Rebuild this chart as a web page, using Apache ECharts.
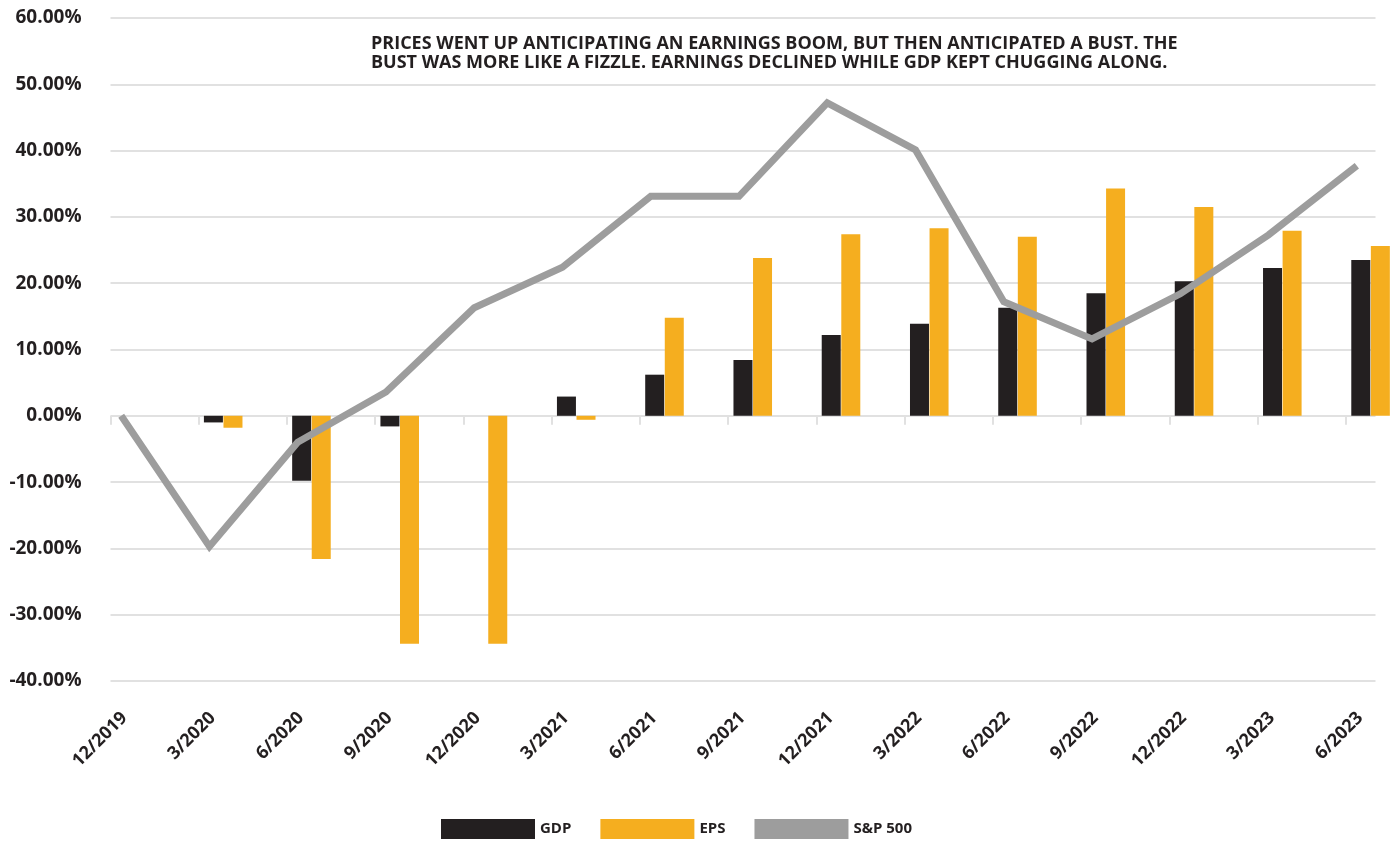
<!DOCTYPE html>
<html>
<head>
<meta charset="utf-8">
<title>GDP, EPS and S&amp;P 500</title>
<script src="https://cdn.jsdelivr.net/npm/echarts@6/dist/echarts.min.js"></script>
<style>
  html, body { margin: 0; padding: 0; background: #ffffff; }
  #chart { width: 1396px; height: 841px; }
</style>
</head>
<body>
<div id="chart"></div>
<script>
// Quarter-end dates (cumulative % change since 12/2019)
const categories = ['12/2019', '3/2020', '6/2020', '9/2020', '12/2020', '3/2021', '6/2021', '9/2021',
  '12/2021', '3/2022', '6/2022', '9/2022', '12/2022', '3/2023', '6/2023'];
const gdp = [0, -1.0, -9.8, -1.6, 0, 2.9, 6.2, 8.4, 12.2, 13.9, 16.3, 18.5, 20.3, 22.3, 23.5];
const eps = [0, -1.8, -21.6, -34.4, -34.4, -0.6, 14.8, 23.8, 27.4, 28.3, 27.0, 34.3, 31.5, 27.9, 25.6];
const sp500 = [0, -19.7, -4.0, 3.6, 16.3, 22.4, 33.1, 33.1, 47.2, 40.1, 17.2, 11.6, 18.4, 27.3, 37.7];
const seriesNames = ['GDP', 'EPS', 'S&P 500'];
const yMin = -40, yMax = 60, yStep = 10;
const headline = 'PRICES WENT UP ANTICIPATING AN EARNINGS BOOM, BUT THEN ANTICIPATED A BUST. THE\n' +
  'BUST WAS MORE LIKE A FIZZLE. EARNINGS DECLINED WHILE GDP KEPT CHUGGING ALONG.';

const INK = '#231f20';
const FONT = 'Open Sans';
const STEP = 88.26;            // px per quarter
const N = categories.length;
const TOP = 18, BOTTOM = 160;

const chart = echarts.init(document.getElementById('chart'), null, { renderer: 'canvas' });

function hiddenY(gridIndex) {
  return { type: 'value', gridIndex, min: yMin, max: yMax, interval: yStep, show: false };
}

// every grid keeps its exact rectangle (no shrinking to fit the container)
function grid(rect) {
  return Object.assign({ top: TOP, bottom: BOTTOM, containLabel: false, outerBoundsMode: 'none' }, rect);
}

const option = {
  animation: false,
  backgroundColor: '#ffffff',
  title: {
    text: headline,
    left: 371,
    top: 34,
    padding: 0,
    textStyle: { fontFamily: FONT, fontWeight: 'bold', fontSize: 18, lineHeight: 19, color: INK }
  },
  legend: {
    data: seriesNames,
    left: 441,
    top: 819,
    padding: 0,
    icon: 'rect',
    itemWidth: 94,
    itemHeight: 20,
    itemGap: 29,
    selectedMode: false,
    textStyle: { fontFamily: FONT, fontWeight: 'bold', fontSize: 15, color: INK }
  },
  grid: [
    grid({ left: 110.5, right: 20.5 }),                    // value gridlines and y labels
    grid({ left: 110.3, width: STEP * N }),                 // quarter boundary ticks on the zero line
    grid({ left: 90.8, width: STEP * N }),                  // GDP / EPS bars
    grid({ left: 121.2, width: STEP * (N - 1) }),           // S&P 500 line
    grid({ left: 124.5, width: STEP * (N - 1) })            // date labels along the bottom
  ],
  xAxis: [
    { type: 'category', gridIndex: 0, data: categories, show: false },
    {
      type: 'category', gridIndex: 1, data: categories, boundaryGap: true,
      axisLine: { show: false, onZero: true },
      axisTick: { show: true, length: 9, lineStyle: { color: '#e1e1e1', width: 2 } },
      axisLabel: { show: false },
      splitLine: { show: false }
    },
    { type: 'category', gridIndex: 2, data: categories, boundaryGap: true, show: false },
    { type: 'category', gridIndex: 3, data: categories, boundaryGap: false, show: false },
    {
      type: 'category', gridIndex: 4, data: categories, boundaryGap: false, position: 'bottom',
      axisLine: { show: false, onZero: false },
      axisTick: { show: false },
      splitLine: { show: false },
      axisLabel: {
        interval: 0, rotate: 45, margin: 34,
        fontFamily: FONT, fontWeight: 'bold', fontSize: 18, color: INK
      }
    }
  ],
  yAxis: [
    {
      type: 'value', gridIndex: 0, min: yMin, max: yMax, interval: yStep,
      axisLine: { show: false },
      axisTick: { show: false },
      splitLine: { show: true, lineStyle: { color: '#e1e1e1', width: 2 } },
      axisLabel: {
        margin: 29,
        fontFamily: FONT, fontWeight: 'bold', fontSize: 19, color: INK,
        formatter: v => v.toFixed(2) + '%'
      }
    },
    hiddenY(1), hiddenY(2), hiddenY(3), hiddenY(4)
  ],
  series: [
    {
      name: seriesNames[0], type: 'bar', xAxisIndex: 2, yAxisIndex: 2,
      data: gdp, barWidth: 19, barGap: '3%', color: INK,
      itemStyle: { color: INK }
    },
    {
      name: seriesNames[1], type: 'bar', xAxisIndex: 2, yAxisIndex: 2,
      data: eps, barWidth: 19, barGap: '3%', color: '#f5ae1f',
      itemStyle: { color: '#f5ae1f' }
    },
    {
      name: seriesNames[2], type: 'line', xAxisIndex: 3, yAxisIndex: 3,
      data: sp500, color: '#9d9d9d', symbol: 'none', clip: false, z: 5,
      itemStyle: { color: '#9d9d9d' },
      lineStyle: { color: '#9d9d9d', width: 7, join: 'miter', cap: 'butt' }
    }
  ]
};

chart.setOption(option);
</script>
</body>
</html>
